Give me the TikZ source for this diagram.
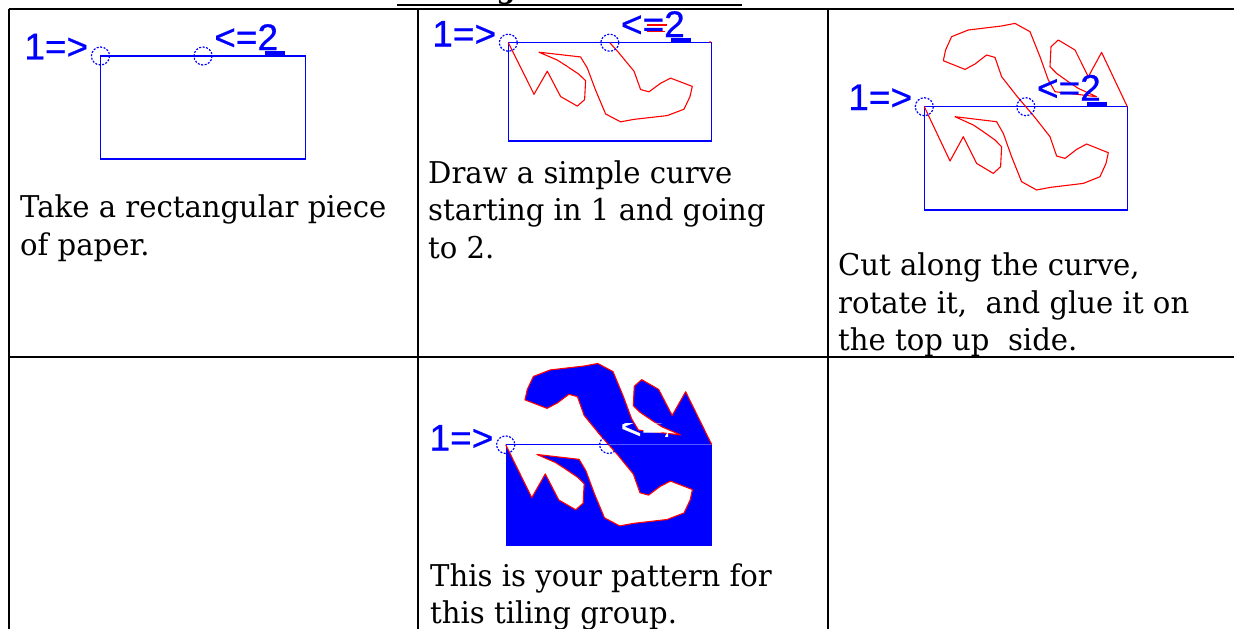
\documentclass[tikz,border=0pt]{standalone}
\usepackage{fontspec}
\setmainfont[FakeStretch=0.97]{DejaVu Serif}
\newfontfamily\lblfont[FakeBold=0.6]{Liberation Sans}
\tikzset{
  grid/.style={line width=2.5pt, draw=black},
  paper/.style={draw=blue, line width=1.5pt},
  cutline/.style={draw=red, line width=1.1pt, line join=round},
  pin/.style={draw=blue, line width=1.2pt, dash pattern=on 2pt off 1.5pt},
  lbl/.style={text=blue, font=\lblfont\fontsize{37}{37}\selectfont, inner sep=0pt},
  body/.style={font=\fontsize{30}{37.5}\selectfont, inner sep=0pt, anchor=base west},
}
\newcommand\cutcurve{(0,0) -- (25.7,54.3) -- (39,30) -- (52.3,56.7) -- (69,66.7) -- (76.3,60) -- (77.3,40) -- (70.7,33.3) -- (59,25) -- (49,18.3) -- (30.7,10) -- (72.3,15) -- (79,26.7) -- (87.3,50) -- (97.3,75) -- (112.3,83.3) -- (125.7,80.7) -- (159,76.7) -- (175.7,70) -- (181.7,56.7) -- (184,46) -- (177.3,43.3) -- (162.3,37.3) -- (152.3,42.7) -- (140.7,51.7) -- (132.3,49.3) -- (125.7,30) -- (110,10) -- (101.5,0)}
\newcommand\pinlabels[2]{%
  \draw[pin] (0,0) circle[radius=9];
  \draw[pin] (101.5,0) circle[radius=9];
  \node[lbl, anchor=base east] (one#1) at (-12,#2) {1=>};
  \node[lbl, anchor=base west] (two#1) at (112.5,-6) {<=2};
  \fill[blue] (162.5,-5) rectangle (182.5,0);
}
\begin{document}
\begin{tikzpicture}[x=1pt, y=-1pt]
\useasboundingbox (0,0) rectangle (1234,629);
% title (cut off at the top, as in the reference)
\node[font=\bfseries\fontsize{28}{28}\selectfont, anchor=base, inner sep=0pt] (title) at (569.5,-1.5) {Tiling CCC Pattern};
\draw[line width=2pt] (397,4.5) -- (742,4.5);
% table grid
\draw[grid] (8.5,9) -- (1240,9);
\draw[grid] (8.5,357) -- (1240,357);
\draw[grid] (9,9) -- (9,640);
\draw[grid] (418,9) -- (418,640);
\draw[grid] (828,9) -- (828,640);

% panel 1
\begin{scope}[shift={(100.5,56)}, xscale=1.01]
  \draw[paper] (0,0) rectangle (203,103);
  \pinlabels{a}{3.3}
\end{scope}
\node[body] (t1a) at (20,217) {Take a rectangular piece};
\node[body] (t1b) at (20,255) {of paper.};

% panel 2
\begin{scope}[shift={(508.3,42.7)}, yscale=0.95]
  \draw[paper] (0,0) rectangle (203,103.3);
  \draw[cutline] \cutcurve;
  \pinlabels{b}{4}
\end{scope}
\draw[red, line width=1.5pt] (647,25) -- (667,25) (647,31.5) -- (665,31.5);
\fill[red] (710,42) circle[radius=1];
\node[body] (t2a) at (428,183) {Draw a simple curve};
\node[body] (t2b) at (428,220.5) {starting in 1 and going};
\node[body] (t2c) at (428,258) {to 2.};

% panel 3
\begin{scope}[shift={(924.3,106.7)}]
  \draw[paper] (0,0) rectangle (203.3,103.3);
  \draw[cutline] \cutcurve;
  \begin{scope}[shift={(203,0)}, rotate=180]
    \draw[cutline] \cutcurve;
  \end{scope}
  \pinlabels{c}{3.3}
\end{scope}
\node[body] (t3a) at (838,275.5) {Cut along the curve,};
\node[body] (t3b) at (838,313) {rotate it,\ \ and glue it on};
\node[body] (t3c) at (838,350.5) {the top up\ \ side.};

% panel 4
\begin{scope}[shift={(505.7,444.7)}, xscale=1.015, yscale=0.975]
  \fill[blue] (0,0) rectangle (203,103.5);
  \fill[white] \cutcurve -- cycle;
  \begin{scope}[shift={(203,0)}, rotate=180]
    \fill[blue] \cutcurve -- cycle;
    \draw[cutline] \cutcurve;
  \end{scope}
  \draw[cutline] \cutcurve;
  \draw[blue, line width=1.2pt] (0,0) -- (101.5,0);
  \draw[pin] (0,0) circle[radius=9];
  \draw[pin] (101.5,0) circle[radius=9];
  \node[lbl, anchor=base east] (oned) at (-12,6) {1=>};
  \begin{scope}
    \clip (115,-22) rectangle (160,-8);
    \node[lbl, anchor=base west, text=white] (twod) at (112.5,-6) {<=2};
  \end{scope}
\end{scope}
\node[body] (t4a) at (430,586) {This is your pattern for};
\node[body] (t4b) at (430,623) {this tiling group.};
\end{tikzpicture}
\end{document}
